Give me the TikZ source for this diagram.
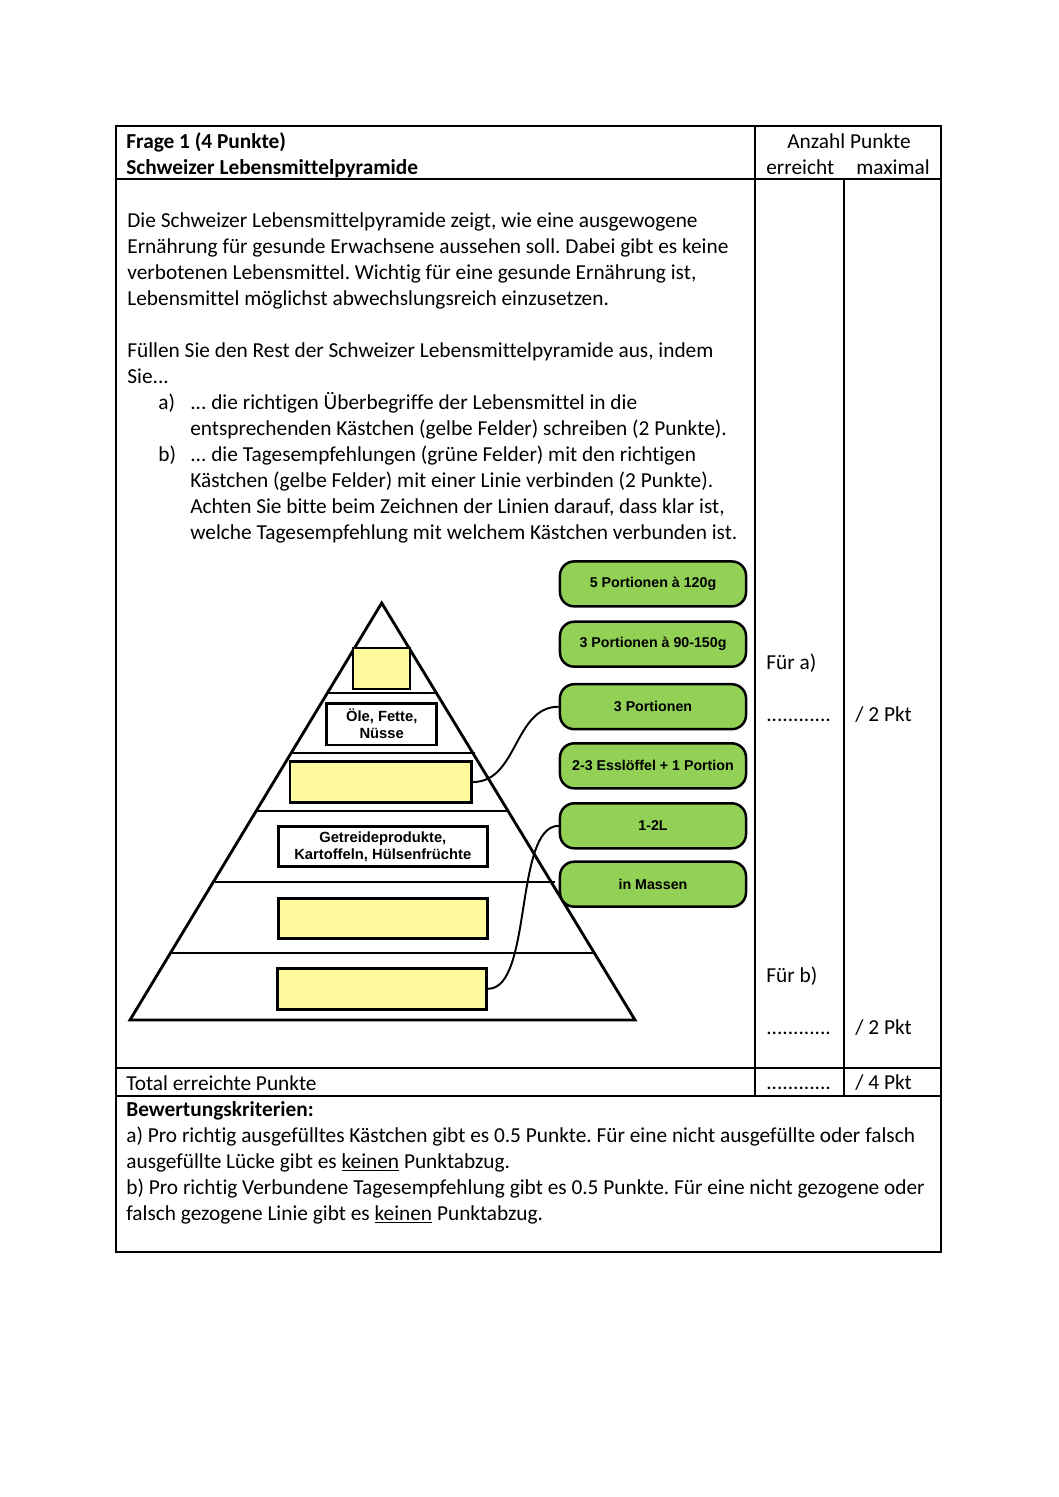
\documentclass[tikz,border=0pt]{standalone}
\usepackage{fontspec}
\setmainfont{Carlito}[Ligatures=NoCommon]
\newfontfamily\arialfont{Liberation Sans}
\definecolor{yellowfill}{RGB}{255,250,155}
\definecolor{greenfill}{RGB}{146,208,86}
\frenchspacing
\begin{document}
\begin{tikzpicture}[x=0.5627pt,y=-0.5627pt,
  tline/.style={line width=0.6pt},
  txt/.style={anchor=base west, inner sep=0pt, font=\fontsize{12}{14}\selectfont},
  txtb/.style={txt, font=\fontsize{12}{14}\selectfont\bfseries},
  pyr/.style={line width=1.6pt},
  ybox/.style={draw, line width=1.5pt, fill=yellowfill, inner sep=0pt},
  wbox/.style={draw, line width=1.5pt, fill=white, inner sep=0pt, align=center,
    font=\arialfont\bfseries\fontsize{8.3}{9.6}\selectfont},
  gbox/.style={draw, line width=1.4pt, fill=greenfill, rounded corners=8pt, inner sep=0pt,
    minimum width=104.7pt, minimum height=25.3pt,
    font=\arialfont\bfseries\fontsize{8}{9.5}\selectfont},
  conn/.style={line width=1.1pt}
]
\useasboundingbox (0,0) rectangle (1058,1497);

% table frame
\draw[tline] (116,126) rectangle (941,1252);
\draw[tline] (116,179) -- (941,179);
\draw[tline] (755,126) -- (755,1096);
\draw[tline] (844,179) -- (844,1096);
\draw[tline] (116,1068) -- (941,1068);
\draw[tline] (116,1096) -- (941,1096);

% header
\node[txtb] (h1) at (126,149) {Frage 1 (4 Punkte)};
\node[txtb] (h2) at (126,175) {Schweizer Lebensmittelpyramide};
\node[txt, anchor=base] (h3) at (849,149) {Anzahl Punkte};
\node[txt] (h4) at (766,175) {erreicht};
\node[txt] (h5) at (856,175) {maximal};

% paragraph
\node[txt] (p1) at (127,227) {Die Schweizer Lebensmittelpyramide zeigt, wie eine ausgewogene};
\node[txt] (p2) at (127,253) {Ernährung für gesunde Erwachsene aussehen soll. Dabei gibt es keine};
\node[txt] (p3) at (127,279) {verbotenen Lebensmittel. Wichtig für eine gesunde Ernährung ist,};
\node[txt] (p4) at (127,305) {Lebensmittel möglichst abwechslungsreich einzusetzen.};
\node[txt] (p5) at (127,357) {Füllen Sie den Rest der Schweizer Lebensmittelpyramide aus, indem};
\node[txt] (p6) at (127,383) {Sie...};
\node[txt] (la) at (158,409) {a)};
\node[txt] (p7) at (190,409) {... die richtigen Überbegriffe der Lebensmittel in die};
\node[txt] (p8) at (190,435) {entsprechenden Kästchen (gelbe Felder) schreiben (2 Punkte).};
\node[txt] (lb) at (158,461) {b)};
\node[txt] (p9) at (190,461) {... die Tagesempfehlungen (grüne Felder) mit den richtigen};
\node[txt] (p10) at (190,487) {Kästchen (gelbe Felder) mit einer Linie verbinden (2 Punkte).};
\node[txt] (p11) at (190,513) {Achten Sie bitte beim Zeichnen der Linien darauf, dass klar ist,};
\node[txt] (p12) at (190,539) {welche Tagesempfehlung mit welchem Kästchen verbunden ist.};

% right column
\node[txt] (fa) at (766,669) {Für a)};
\node[txt] (da) at (766,721) {............};
\node[txt] (pa) at (855,721) {/ 2 Pkt};
\node[txt] (fb) at (766,982) {Für b)};
\node[txt] (db) at (766,1034) {............};
\node[txt] (pb) at (855,1034) {/ 2 Pkt};

% total row
\node[txt] (t1) at (126,1090) {Total erreichte Punkte};
\node[txt] (t2) at (766,1089) {............};
\node[txt] (t3) at (855,1089) {/ 4 Pkt};

% criteria
\node[txtb] (k0) at (126,1116) {Bewertungskriterien:};
\node[txt] (k1) at (126,1142) {a) Pro richtig ausgefülltes Kästchen gibt es 0.5 Punkte. Für eine nicht ausgefüllte oder falsch};
\node[txt] (k2) at (126,1168) {ausgefüllte Lücke gibt es \underline{keinen} Punktabzug.};
\node[txt] (k3) at (126,1194) {b) Pro richtig Verbundene Tagesempfehlung gibt es 0.5 Punkte. Für eine nicht gezogene oder};
\node[txt] (k4) at (126,1220) {falsch gezogene Linie gibt es \underline{keinen} Punktabzug.};

% pyramid
\draw[pyr, line join=miter] (381.7,603) -- (635,1020) -- (130,1020) -- cycle;
\draw[pyr] (328,693) -- (438,693);
\draw[pyr] (292,753) -- (475,753);
\draw[pyr] (257,811) -- (507,811);
\draw[pyr] (215,882) -- (555,882);
\draw[pyr] (172,953) -- (593,953);

\node[ybox, minimum width=32.1pt, minimum height=23.1pt] (y1) at (381.5,668.5) {};
\node[wbox, minimum width=61.9pt, minimum height=23.5pt] (w2) at (381.7,724.2) {Öle, Fette,\\Nüsse};
\node[ybox, minimum width=102.2pt, minimum height=22.8pt] (y3) at (380.8,782) {};
\node[wbox, minimum width=117.6pt, minimum height=22.5pt] (w4) at (382.8,846.7) {Getreideprodukte,\\Kartoffeln, Hülsenfrüchte};
\node[ybox, minimum width=117.6pt, minimum height=22.5pt] (y5) at (382.8,918.3) {};
\node[ybox, minimum width=117.8pt, minimum height=23.1pt] (y6) at (382,988.8) {};

% green boxes
\node[gbox] (g1) at (653,583.9) {5 Portionen à 120g};
\node[gbox] (g2) at (653,644.2) {3 Portionen à 90-150g};
\node[gbox] (g3) at (653,706.7) {3 Portionen};
\node[gbox] (g4) at (653,765.8) {2-3 Esslöffel + 1 Portion};
\node[gbox] (g5) at (653,825.8) {1-2L};
\node[gbox] (g6) at (653,884.2) {in Massen};

% connectors
\draw[conn] (y3.east) .. controls +(45,0) and +(-45,0) .. (g3.west);
\draw[conn] (y6.east) .. controls +(45,0) and +(-45,0) .. (g5.west);
\end{tikzpicture}
\end{document}
